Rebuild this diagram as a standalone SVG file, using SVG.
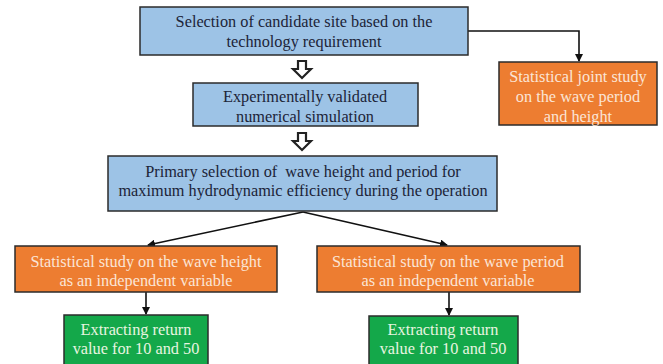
<svg xmlns="http://www.w3.org/2000/svg" width="663" height="364" viewBox="0 0 663 364">
<defs>
<style>
.blue{fill:#9dc3e6;stroke:#2b2b2b;stroke-width:1.5}
.orange{fill:#ed7d31;stroke:#2b2b2b;stroke-width:1.5}
.green{fill:#14a84a;stroke:#2b2b2b;stroke-width:1.5}
text{font-family:"Liberation Serif","Times New Roman",serif;font-size:16.3px;text-anchor:middle}
.dk{fill:#1c2438}
.lt{fill:#fbe5d6}
.gt{fill:#e8f5e0}
.line{fill:none;stroke:#111;stroke-width:1.6}
.hollow{fill:#fff;stroke:#222;stroke-width:2.2;stroke-linejoin:miter}
</style>
<marker id="ah" markerWidth="8" markerHeight="8" refX="7" refY="4" orient="auto" markerUnits="userSpaceOnUse">
<path d="M0,0 L8,4 L0,8 z" fill="#111"/>
</marker>
</defs>
<g id="connectors">
<path class="line" d="M468,31 H579 V61" marker-end="url(#ah)"/>
<path class="line" d="M303,212 L148,245" marker-end="url(#ah)"/>
<path class="line" d="M303,212 L447,245" marker-end="url(#ah)"/>
<path class="line" d="M146,292 V314" marker-end="url(#ah)"/>
<path class="line" d="M449,292 V315" marker-end="url(#ah)"/>
<path class="hollow" d="M298,61 H306 V69 H311 L302,78 L293,69 H298 Z"/>
<path class="hollow" d="M298,133 H306 V141 H311 L302,150 L293,141 H298 Z"/>
</g>
<g id="n1">
<rect class="blue" x="140" y="7" width="328" height="48"/>
<text class="dk" x="304" y="27">Selection of candidate site based on the</text>
<text class="dk" x="304" y="47">technology requirement</text>
</g>
<g id="n2">
<rect class="orange" x="499" y="62" width="158" height="63"/>
<text class="lt" x="578" y="82">Statistical joint study</text>
<text class="lt" x="578" y="102">on the wave period</text>
<text class="lt" x="578" y="122">and height</text>
</g>
<g id="n3">
<rect class="blue" x="193" y="83" width="225" height="43"/>
<text class="dk" x="305" y="102">Experimentally validated</text>
<text class="dk" x="305" y="122">numerical simulation</text>
</g>
<g id="n4">
<rect class="blue" x="108" y="156" width="389" height="55"/>
<text class="dk" x="303" y="177" xml:space="preserve">Primary selection of  wave height and period for</text>
<text class="dk" x="303" y="196">maximum hydrodynamic efficiency during the operation</text>
</g>
<g id="n5">
<rect class="orange" x="15" y="246" width="262" height="46"/>
<text class="lt" x="146" y="267">Statistical study on the wave height</text>
<text class="lt" x="146" y="286">as an independent variable</text>
</g>
<g id="n6">
<rect class="orange" x="317" y="246" width="263" height="46"/>
<text class="lt" x="448" y="267">Statistical study on the wave period</text>
<text class="lt" x="448" y="286">as an independent variable</text>
</g>
<g id="n7">
<rect class="green" x="64" y="315" width="144" height="60"/>
<text class="gt" x="136" y="335">Extracting return</text>
<text class="gt" x="136" y="354">value for 10 and 50</text>
</g>
<g id="n8">
<rect class="green" x="369" y="316" width="149" height="60"/>
<text class="gt" x="443" y="335">Extracting return</text>
<text class="gt" x="443" y="354">value for 10 and 50</text>
</g>
</svg>
